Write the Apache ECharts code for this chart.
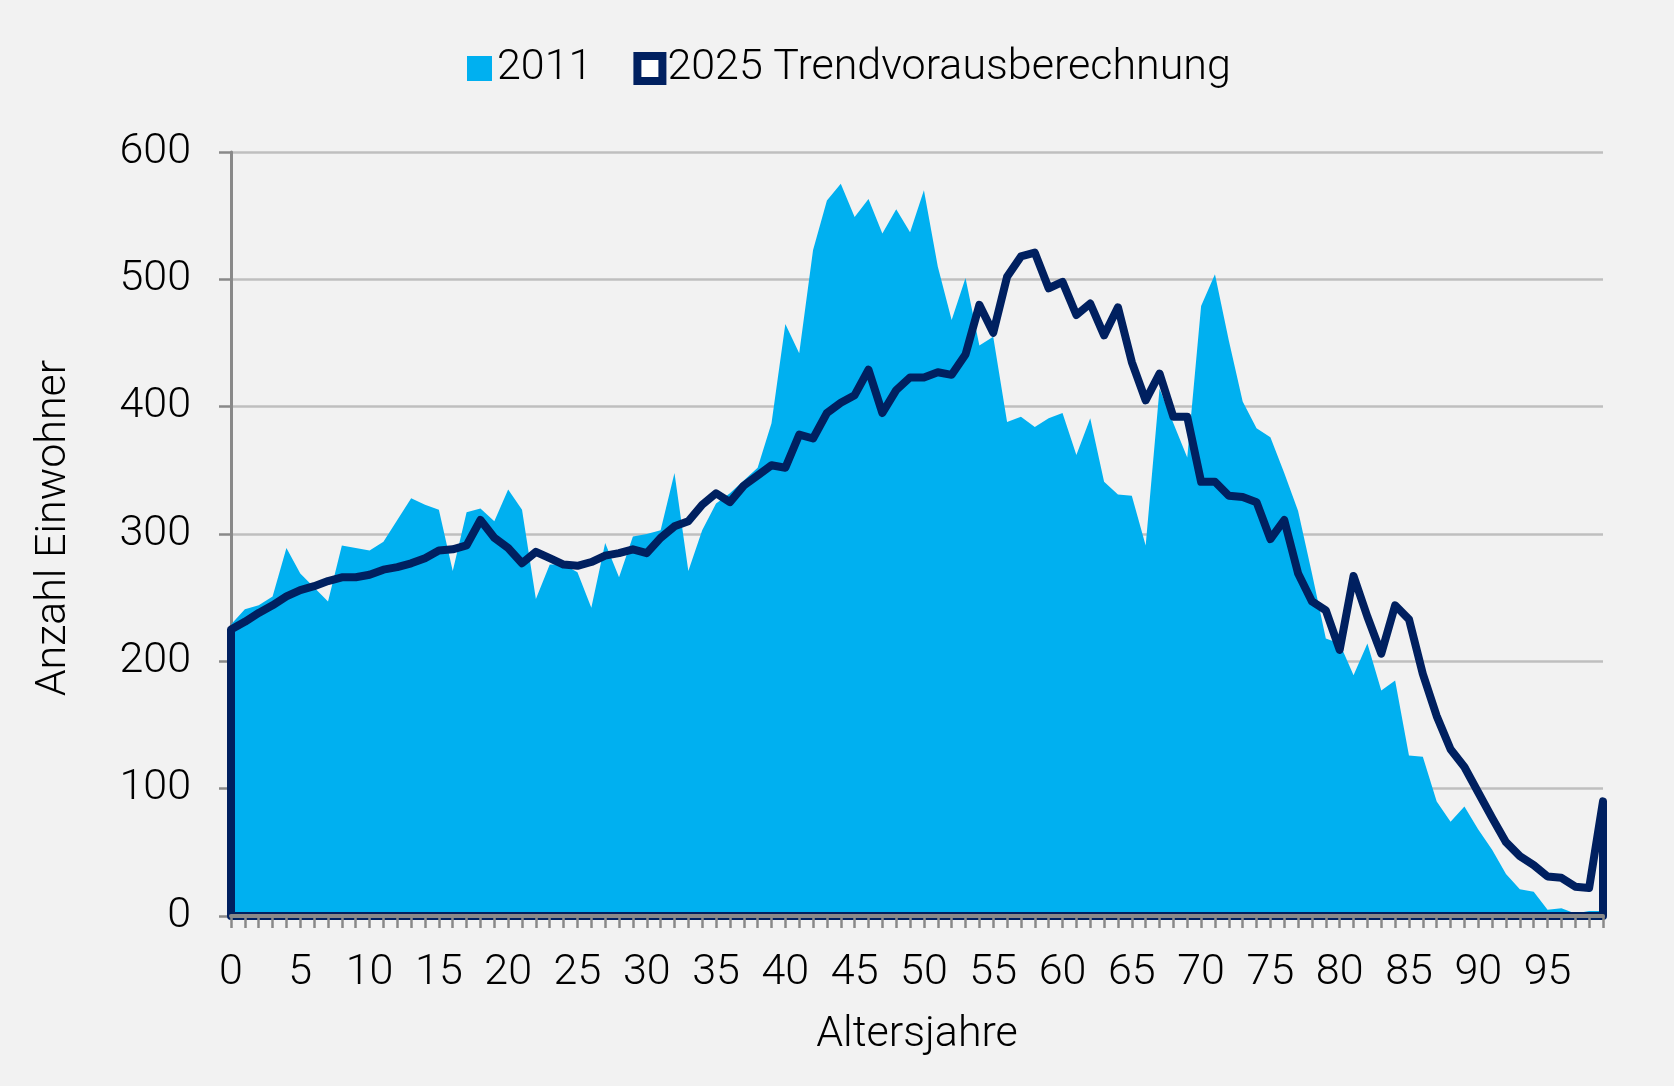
<!DOCTYPE html>
<html>
<head>
<meta charset="utf-8">
<script src="https://cdn.jsdelivr.net/npm/echarts@6/dist/echarts.min.js"></script>
<style>
html,body{margin:0;padding:0;background:#f2f2f2;}
#c{width:1674px;height:1086px;}
</style>
</head>
<body>
<div id="c"></div>
<script>
// Altersjahre 0..99
const ages = Array.from({length: 100}, (_, i) => String(i));

const values2011 = [
  229, 241, 244, 251, 289, 269, 258, 247, 291, 289,
  287, 294, 311, 328, 323, 319, 271, 317, 320, 310,
  335, 319, 249, 276, 276, 270, 242, 293, 266, 298,
  300, 303, 348, 271, 303, 324, 332, 342, 352, 387,
  465, 442, 523, 562, 575, 549, 563, 536, 555, 537,
  570, 510, 468, 501, 448, 455, 388, 392, 384, 391,
  395, 362, 391, 341, 331, 330, 291, 414, 387, 360,
  479, 504, 452, 404, 383, 376, 348, 318, 269, 218,
  214, 189, 214, 177, 185, 126, 125, 90, 74, 86,
  68, 52, 33, 21, 19, 5, 6, 2, 4, 4
];

const values2025 = [
  225, 231, 238, 244, 251, 256, 259, 263, 266, 266,
  268, 272, 274, 277, 281, 287, 288, 291, 311, 297,
  289, 277, 286, 281, 276, 275, 278, 283, 285, 288,
  285, 297, 306, 310, 323, 332, 325, 338, 346, 354,
  352, 378, 375, 395, 403, 409, 429, 395, 413, 423,
  423, 427, 425, 441, 480, 458, 502, 518, 521, 493,
  498, 472, 481, 456, 478, 435, 405, 426, 392, 392,
  341, 341, 330, 329, 325, 296, 311, 269, 247, 240,
  209, 267, 235, 206, 244, 233, 190, 157, 131, 117,
  97, 77, 58, 47, 40, 31, 30, 23, 22, 90
];

const yTicks = [0, 100, 200, 300, 400, 500, 600];

const name2011 = '2011';
const name2025 = '2025 Trendvorausberechnung';

// outline of the 2025 area (Excel-style border: up, along the values, down, back along the base)
const last = ages.length - 1;
const outline2025 = [[0, 0]]
  .concat(values2025.map((v, i) => [i, v]))
  .concat([[last, 0], [0, 0]]);

const FONT = "'Roboto', 'Liberation Sans', sans-serif";
const FS = 43;
const chart = echarts.init(document.getElementById('c'));
chart.setOption({
  backgroundColor: '#f2f2f2',
  animation: false,
  textStyle: {fontFamily: FONT, fontWeight: 300, color: '#000'},
  legend: {
    left: 462,
    top: 42,
    itemWidth: 25,
    itemHeight: 25,
    itemGap: 41,
    textStyle: {fontSize: FS, fontFamily: FONT, fontWeight: 300, color: '#000'},
    data: [
      {name: name2011, icon: 'rect', itemStyle: {color: '#00b0f0', borderWidth: 0}},
      {name: name2025, icon: 'rect', itemStyle: {color: '#ffffff', borderColor: '#002060', borderWidth: 8}}
    ]
  },
  grid: {left: 231, right: 71, top: 152, bottom: 170, containLabel: false},
  xAxis: {
    type: 'category',
    data: ages,
    boundaryGap: false,
    z: 3,
    axisLine: {lineStyle: {color: '#898989', width: 4}},
    axisTick: {show: true, interval: 0, length: 12, lineStyle: {color: '#898989', width: 2.5}},
    axisLabel: {interval: 4, fontSize: FS, color: '#000', margin: 36, fontFamily: FONT, fontWeight: 300},
    splitLine: {show: false},
    name: 'Altersjahre',
    nameLocation: 'middle',
    nameGap: 98,
    nameTextStyle: {fontSize: FS, color: '#000', fontFamily: FONT, fontWeight: 300}
  },
  yAxis: {
    type: 'value',
    min: yTicks[0],
    max: yTicks[yTicks.length - 1],
    interval: yTicks[1] - yTicks[0],
    axisLine: {show: true, lineStyle: {color: '#898989', width: 3}},
    axisTick: {show: true, length: 12, lineStyle: {color: '#898989', width: 2.5}},
    axisLabel: {fontSize: FS, color: '#000', margin: 40, fontFamily: FONT, fontWeight: 300},
    splitLine: {show: true, lineStyle: {color: '#bfbfbf', width: 2.5}},
    name: 'Anzahl Einwohner',
    nameLocation: 'middle',
    nameRotate: 90,
    nameGap: 155,
    nameTextStyle: {fontSize: FS, color: '#000', fontFamily: FONT, fontWeight: 300, padding: [0, 0, 0, 12]}
  },
  series: [
    {
      name: name2011,
      type: 'line',
      data: values2011,
      symbol: 'none',
      lineStyle: {width: 0},
      itemStyle: {color: '#00b0f0'},
      areaStyle: {color: '#00b0f0', opacity: 1},
      z: 1
    },
    {
      name: name2025,
      type: 'line',
      data: outline2025,
      symbol: 'none',
      lineStyle: {color: '#002060', width: 8, join: 'round', cap: 'round'},
      itemStyle: {color: '#002060'},
      z: 2
    }
  ]
});
</script>
</body>
</html>
